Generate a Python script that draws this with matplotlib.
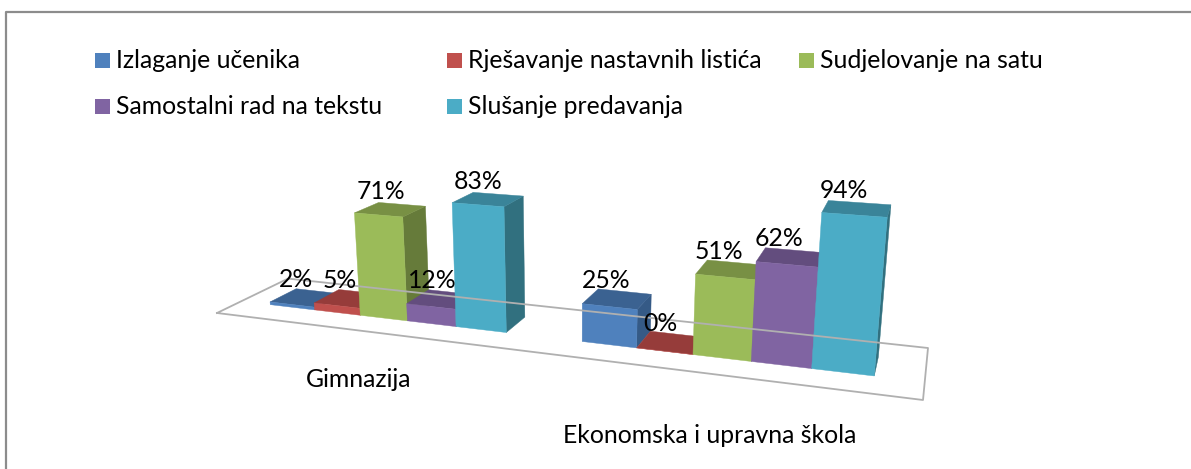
import matplotlib
matplotlib.use('Agg')
import matplotlib.pyplot as plt
import numpy as np

plt.rcParams['font.family'] = ['Lato', 'DejaVu Sans']

skole = ['Gimnazija', 'Ekonomska i upravna škola']
nacini = ['Izlaganje učenika', 'Rješavanje nastavnih listića', 'Sudjelovanje na satu',
          'Samostalni rad na tekstu', 'Slušanje predavanja']
gimnazija = [2, 5, 71, 12, 83]
ekonomska = [25, 0, 51, 62, 94]

boje = ['#4F81BD', '#C0504D', '#9BBB59', '#8064A2', '#4BACC6']
boje_vrh = ['#3B6291', '#963C3A', '#789044', '#634D7E', '#3A8499']
boje_bok = ['#355A86', '#8A3735', '#667B3A', '#5A4672', '#31707F']

# uglovi poda u pikselima: prednji lijevi, prednji desni, straznji desni, straznji lijevi
pod = [(217, 313), (923, 400), (928, 348), (288, 278.6)]
nedogled = (574, 4050)
k_visina = 3.73e-4
sirina_stupca = 0.0775
pomak = 0.052
y_pred = 0.32
y_straga = 0.70


def homografija(q):
    a = []
    b = []
    for (u, v), (x, y) in zip([(0, 0), (1, 0), (1, 1), (0, 1)], q):
        a.append([u, v, 1, 0, 0, 0, -u * x, -v * x])
        a.append([0, 0, 0, u, v, 1, -u * y, -v * y])
        b += [x, y]
    r = np.linalg.solve(np.array(a, dtype=float), np.array(b, dtype=float))
    return np.append(r, 1).reshape(3, 3)


H = homografija(pod)
V = np.array([nedogled[0], nedogled[1], 1.0])


def proj(x, y, z=0):
    p = H @ np.array([x, y, 1.0]) - z * k_visina * V
    return p[0] / p[2], p[1] / p[2]


fig = plt.figure(figsize=(11.91, 4.69), dpi=100)
ax = fig.add_axes([0, 0, 1, 1])
ax.set_xlim(0, 1191)
ax.set_ylim(469, 0)
ax.axis('off')

# okvir, vidi se samo gore i lijevo
ax.plot([6, 6, 1191], [469, 12, 12], color='#8C8C8C', lw=1.6)

# pod
tocke = [proj(0, 0), proj(1, 0), proj(1, 1), proj(0, 1), proj(0, 0)]
ax.plot(*zip(*tocke), color='#B0B0B0', lw=1.3)


def stupac(x0, vrijednost, i):
    x1 = x0 + sirina_stupca
    z = vrijednost
    bok = [proj(x1, y_pred), proj(x1, y_straga), proj(x1, y_straga, z), proj(x1, y_pred, z)]
    vrh = [proj(x0, y_pred, z), proj(x1, y_pred, z), proj(x1, y_straga, z), proj(x0, y_straga, z)]
    lice = [proj(x0, y_pred), proj(x1, y_pred), proj(x1, y_pred, z), proj(x0, y_pred, z)]
    ax.fill(*zip(*bok), color=boje_bok[i], lw=0.3)
    ax.fill(*zip(*vrh), color=boje_vrh[i], lw=0.3)
    ax.fill(*zip(*lice), color=boje[i], lw=0.3)


oznake = []
for g, vrijednosti in enumerate([gimnazija, ekonomska]):
    for i, v in enumerate(vrijednosti):
        x0 = g * 0.5 + pomak + i * sirina_stupca
        stupac(x0, v, i)
        sx, sy = proj(x0 + sirina_stupca * 0.3, (y_pred + y_straga) / 2, v)
        oznake.append((sx, sy - 17.5, f'{v}%'))

for sx, sy, t in oznake:
    ax.text(sx, sy, t, fontsize=17.8, ha='center', va='center', color='black')

# nazivi skola
ax.text(306, 387, skole[0], fontsize=17.8, ha='left', va='baseline', color='black')
ax.text(563, 443, skole[1], fontsize=17.8, ha='left', va='baseline', color='black')

# legenda
leg_x = [95, 447, 799, 95, 447]
leg_y = [68, 68, 68, 114, 114]
for i, n in enumerate(nacini):
    ax.fill([leg_x[i], leg_x[i] + 15, leg_x[i] + 15, leg_x[i]],
            [leg_y[i] - 15, leg_y[i] - 15, leg_y[i], leg_y[i]], color=boje[i], lw=0)
    ax.text(leg_x[i] + 21, leg_y[i], n, fontsize=17.8, ha='left', va='baseline', color='black')

fig.savefig('out.png', dpi=100)
